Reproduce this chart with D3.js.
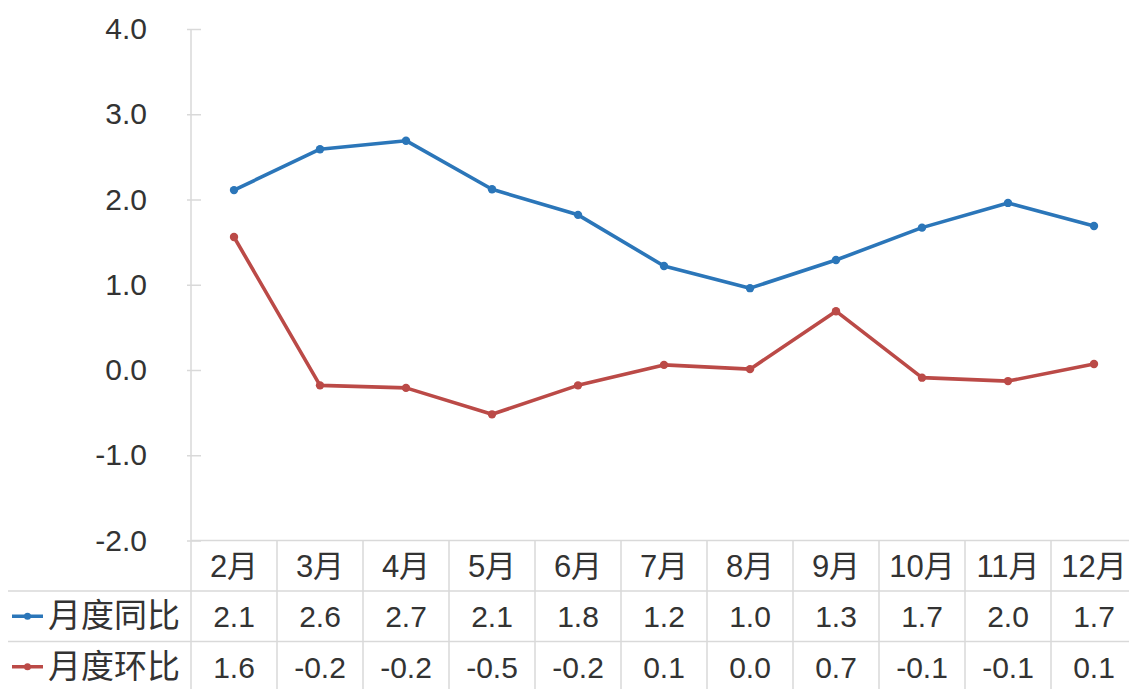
<!DOCTYPE html>
<meta charset="utf-8">
<script src="https://d3js.org/d3.v7.min.js"></script>
<style>
  body { margin: 0; background: #fff; }
  text { font-family: "Liberation Sans", "Noto Sans CJK SC", sans-serif; fill: #333; }
</style>
<body>
<div id="chart"></div>
<script>
  // data
  const months = ["2月", "3月", "4月", "5月", "6月", "7月", "8月", "9月", "10月", "11月", "12月"];
  const yoy = [2.11, 2.59, 2.69, 2.12, 1.82, 1.22, 0.96, 1.29, 1.67, 1.96, 1.69];
  const mom = [1.56, -0.18, -0.21, -0.52, -0.18, 0.06, 0.01, 0.69, -0.09, -0.13, 0.07];
  const seriesNames = ["月度同比", "月度环比"];
  const yTicks = [-2, -1, 0, 1, 2, 3, 4];

  const width = 1129, height = 689;
  const plot = {left: 191, right: 1137, top: 29, bottom: 540.5};
  const rowH = 50.5;
  const colors = ["#2b76b9", "#bb4a47"];
  const gridColor = "#d9d9d9";

  // plain hyphen for negatives, like the original
  const fmt = d3.formatLocale({decimal: ".", thousands: ",", grouping: [3], currency: ["", ""], minus: "-"}).format(".1f");

  const svg = d3.select("#chart").append("svg")
    .attr("width", width)
    .attr("height", height);

  const x = d3.scaleBand().domain(months).range([plot.left, plot.right]).padding(0);
  const y = d3.scaleLinear().domain([-2, 4]).range([plot.bottom, plot.top]);

  // y axis
  const yAxis = svg.append("g")
    .attr("transform", `translate(${plot.left},0)`)
    .call(d3.axisLeft(y).tickValues(yTicks).tickFormat(fmt).tickSizeInner(4).tickSizeOuter(0).tickPadding(40));
  yAxis.select(".domain").remove();
  yAxis.selectAll(".tick line").attr("x2", 10).attr("x1", -4).attr("stroke", gridColor).attr("stroke-width", 1.5);
  yAxis.selectAll(".tick text").style("font-size", "30px").attr("fill", "#333");

  // axis line, running down through the table
  svg.append("line")
    .attr("x1", plot.left).attr("x2", plot.left)
    .attr("y1", plot.top).attr("y2", height)
    .attr("stroke", gridColor).attr("stroke-width", 1.5);

  // data table grid
  const table = svg.append("g");
  table.append("line")
    .attr("x1", plot.left).attr("x2", width)
    .attr("y1", plot.bottom).attr("y2", plot.bottom)
    .attr("stroke", gridColor).attr("stroke-width", 1.5);
  [1, 2].forEach(i => {
    table.append("line")
      .attr("x1", 8).attr("x2", width)
      .attr("y1", plot.bottom + rowH * i).attr("y2", plot.bottom + rowH * i)
      .attr("stroke", gridColor).attr("stroke-width", 1.5);
  });
  table.selectAll("line.col")
    .data(months.slice(1))
    .join("line")
      .attr("class", "col")
      .attr("x1", d => x(d)).attr("x2", d => x(d))
      .attr("y1", plot.bottom).attr("y2", height)
      .attr("stroke", gridColor).attr("stroke-width", 1.5);

  // header row
  table.selectAll("text.month")
    .data(months)
    .join("text")
      .attr("class", "month")
      .attr("x", d => x(d) + x.bandwidth() / 2)
      .attr("y", plot.bottom + rowH / 2 + 11)
      .attr("text-anchor", "middle")
      .style("font-size", "31px")
      .text(d => d);

  const series = [yoy, mom];

  series.forEach((vals, i) => {
    const rowY = plot.bottom + rowH * (i + 1) + rowH / 2 + 11;
    // values
    table.append("g").selectAll("text")
      .data(vals)
      .join("text")
        .attr("x", (d, j) => x(months[j]) + x.bandwidth() / 2)
        .attr("y", rowY)
        .attr("text-anchor", "middle")
        .style("font-size", "30px")
        .text(d => fmt(d));
    // legend key
    const cy = rowY - 11;
    table.append("line")
      .attr("x1", 12).attr("x2", 43).attr("y1", cy).attr("y2", cy)
      .attr("stroke", colors[i]).attr("stroke-width", 3.5);
    table.append("circle")
      .attr("cx", 27.5).attr("cy", cy).attr("r", 3.5)
      .attr("fill", colors[i]);
    table.append("text")
      .attr("x", 48).attr("y", rowY)
      .style("font-size", "33px")
      .attr("fill", "#444")
      .text(seriesNames[i]);
  });

  // lines and markers
  const line = d3.line()
    .x((d, j) => x(months[j]) + x.bandwidth() / 2)
    .y(d => y(d));

  series.forEach((vals, i) => {
    svg.append("path")
      .datum(vals)
      .attr("fill", "none")
      .attr("stroke", colors[i])
      .attr("stroke-width", 3.6)
      .attr("stroke-linejoin", "round")
      .attr("d", line);
    svg.append("g").selectAll("circle")
      .data(vals)
      .join("circle")
        .attr("cx", (d, j) => x(months[j]) + x.bandwidth() / 2)
        .attr("cy", d => y(d))
        .attr("r", 4.2)
        .attr("fill", colors[i]);
  });
</script>
</body>
